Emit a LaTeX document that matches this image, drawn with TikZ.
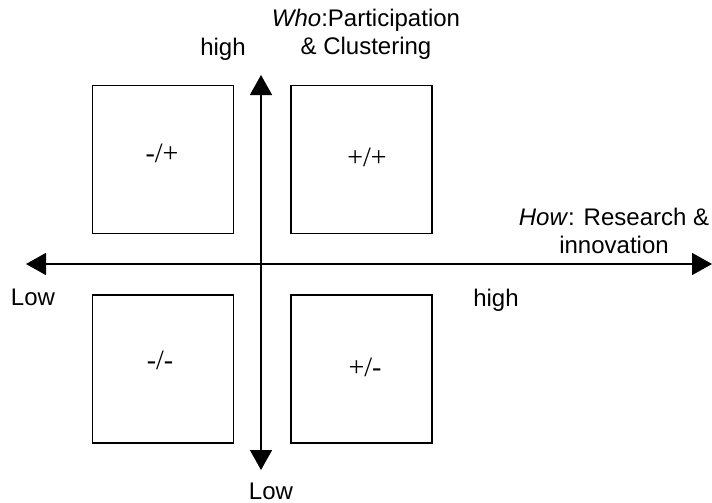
\documentclass[tikz,border=0pt]{standalone}
\usepackage{fontspec}
\setmainfont{Liberation Sans}
\newfontfamily\signfont{Liberation Serif}
\usetikzlibrary{arrows.meta}
\begin{document}
\begin{tikzpicture}[x=1pt,y=-1pt,
  quad/.style={draw=black,line width=1.8pt,minimum width=141pt,minimum height=148pt,inner sep=0pt},
  axis/.style={line width=1.6pt,-{Triangle[length=20pt,width=22pt]}},
  lbl/.style={font=\fontsize{24}{28}\selectfont,inner sep=0pt,align=center},
  sgn/.style={font=\signfont\fontsize{28}{30}\selectfont,inner sep=0pt}]
\useasboundingbox (0,0) rectangle (712,503);
\node[quad] (tl) at (163,159.5) {};
\node[quad] (tr) at (361.5,159.5) {};
\node[quad] (bl) at (163,369) {};
\node[quad] (br) at (361.5,369) {};
\node[sgn] (qtl) at (162,153) {-/+};
\node[sgn] (qtr) at (367,157) {+/+};
\node[sgn] (qbl) at (160,360) {-/-};
\node[sgn] (qbr) at (365,367) {+/-};
\coordinate (vtop) at (261,75);
\coordinate (vbot) at (261,470);
\coordinate (hl) at (26,264);
\coordinate (hr) at (712,264);
\coordinate (c) at (261,264);
\draw[axis] (c) -- (vtop);
\draw[axis] (c) -- (vbot);
\draw[axis] (c) -- (hl);
\draw[axis] (c) -- (hr);
\node[lbl] (highv) at (223,49) {high};
\node[lbl] (who) at (366,34) {\textit{Who}:Participation\\ \& Clustering};
\node[lbl] (how) at (614,231) {\textit{How}: Research \&\\ innovation};
\node[lbl] (highh) at (496,300) {high};
\node[lbl] (lowh) at (33,297) {Low};
\node[lbl] (lowv) at (271,491) {Low};
\end{tikzpicture}
\end{document}
